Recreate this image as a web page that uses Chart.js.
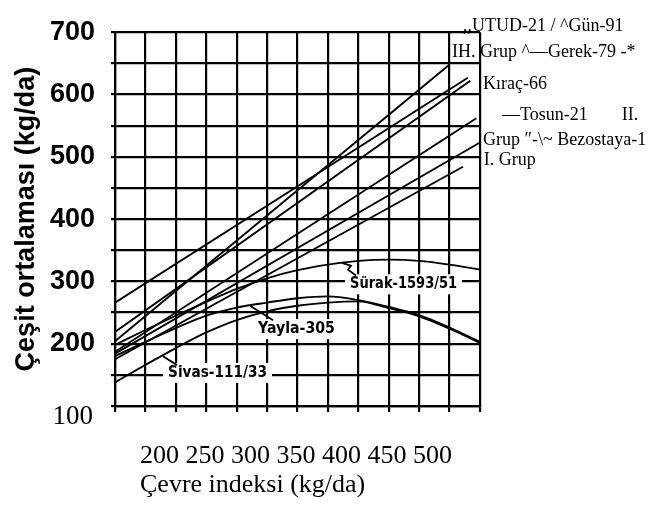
<!DOCTYPE html>
<html>
<head>
<meta charset="utf-8">
<script src="https://cdn.jsdelivr.net/npm/chart.js@4.4.0/dist/chart.umd.min.js"></script>
<style>
    html, body { margin: 0; padding: 0; background: #fff; }
    #wrap { width: 648px; height: 508px; }
</style>
</head>
<body>
<div id="wrap"><canvas id="chart" width="648" height="508"></canvas></div>
<script>
// Çevre indeksi values for the curved varieties
var curveX = [200, 225, 250, 275, 300, 325, 350, 375, 400, 425, 450, 475, 500];
var surakY = [198, 222, 245, 267, 288, 305, 318, 327, 333, 335, 333, 327, 319];
var yaylaY = [180, 203, 225, 245, 258, 266, 273, 276, 270, 259, 246, 226, 203];
var sivasY = [138, 166, 193, 218, 238, 252, 261, 266, 268, 257, 244, 224, 201];

// straight lines, start and end
var gunX = [200, 475], gunY = [204, 648];
var gerekX = [200, 490], gerekY = [266, 627];
var kiracX = [200, 492], kiracY = [219, 622];
var tosunX = [200, 497], tosunY = [187, 562];
var bezostayaX = [200, 500], bezostayaY = [184, 523];
var grupX = [200, 486], grupY = [175, 484];

// tick labels
var yTickLabels = [200, 300, 400, 500, 600, 700];
var yBottomLabel = '100';
var xTickLabels = ['200', '250', '300', '350', '400', '450', '500'];
var xTitle = 'Çevre indeksi (kg/da)';
var yTitle = 'Çeşit ortalaması (kg/da)';

// text on the right side of the plot (anchored in data units)
var sideLabels = [
    { text: ',,UTUD-21 / ^Gün-91', x: 486, y: 709 },
    { text: 'IH. Grup ^—Gerek-79 -*', x: 477, y: 667 },
    { text: 'Kıraç-66', x: 502.5, y: 617 },
    { text: '—Tosun-21', x: 518, y: 567 },
    { text: 'II.', x: 616.5, y: 567 },
    { text: 'Grup ″-\\~ Bezostaya-1', x: 502.5, y: 527 },
    { text: 'I. Grup', x: 503, y: 495 }
];

// labels inside the plot with their pointer lines
var curveLabels = [
    { text: 'Sürak-1593/51', x: 393.2, y: 295.3, width: 107,
      pointer: [[386.6, 329.7], [394, 325], [391.5, 318.8], [398, 309.4]] },
    { text: 'Yayla-305', x: 317.5, y: 223.4, width: 77,
      pointer: [[311, 261], [329.9, 237.5]] },
    { text: 'Sivas-111/33', x: 243.6, y: 153.1, width: 99,
      pointer: [[239.5, 179.7], [251, 165.6]] }
];

function pts(xs, ys) {
    return xs.map(function (x, i) { return { x: x, y: ys[i] }; });
}

function lineSet(label, xs, ys, curved) {
    return {
        label: label,
        data: pts(xs, ys),
        borderColor: '#000',
        borderWidth: 1.9,
        pointRadius: 0,
        fill: false,
        tension: 0,
        cubicInterpolationMode: curved ? 'monotone' : 'default'
    };
}

var textPlugin = {
    id: 'textLayer',
    afterDatasetsDraw: function (chart) {
        var ctx = chart.ctx;
        var xs = chart.scales.x, ys = chart.scales.y, area = chart.chartArea;
        ctx.save();
        ctx.fillStyle = '#000';
        ctx.strokeStyle = '#000';
        ctx.textBaseline = 'middle';

        // labels inside the plot
        curveLabels.forEach(function (l) {
            var px = xs.getPixelForValue(l.x), py = ys.getPixelForValue(l.y);
            ctx.fillStyle = '#fff';
            ctx.fillRect(px - 5, py - 10, l.width + 10, 20);
            ctx.fillStyle = '#000';
            ctx.font = 'bold 16px "DejaVu Sans"';
            var w = ctx.measureText(l.text).width;
            ctx.save();
            ctx.translate(px, py);
            ctx.scale(l.width / w, 1);
            ctx.textAlign = 'left';
            ctx.fillText(l.text, 0, 0);
            ctx.restore();
            ctx.lineWidth = 1.8;
            ctx.beginPath();
            l.pointer.forEach(function (p, i) {
                var x = xs.getPixelForValue(p[0]), y = ys.getPixelForValue(p[1]);
                if (i === 0) ctx.moveTo(x, y); else ctx.lineTo(x, y);
            });
            ctx.stroke();
        });

        // right side names
        ctx.font = '18px "Liberation Serif"';
        ctx.textAlign = 'left';
        sideLabels.forEach(function (l) {
            ctx.fillText(l.text, xs.getPixelForValue(l.x), ys.getPixelForValue(l.y));
        });

        // x axis text
        ctx.font = '26px "Liberation Serif"';
        ctx.fillText(xTickLabels.join(' '), area.left + 25, area.bottom + 50);
        ctx.fillText(xTitle, area.left + 25, area.bottom + 79);

        // bottom y label
        ctx.font = '27px "Liberation Serif"';
        ctx.textAlign = 'right';
        ctx.fillText(yBottomLabel, area.left - 22, ys.getPixelForValue(100) + 11);
        ctx.restore();
    }
};

var chart = new Chart(document.getElementById('chart'), {
    type: 'line',
    data: {
        datasets: [
            lineSet('Sürak-1593/51', curveX, surakY, true),
            lineSet('Yayla-305', curveX, yaylaY, true),
            lineSet('Sivas-111/33', curveX, sivasY, true),
            lineSet('Gün-91', gunX, gunY, false),
            lineSet('Gerek-79', gerekX, gerekY, false),
            lineSet('Kıraç-66', kiracX, kiracY, false),
            lineSet('Tosun-21', tosunX, tosunY, false),
            lineSet('Bezostaya-1', bezostayaX, bezostayaY, false),
            lineSet('I. Grup', grupX, grupY, false)
        ]
    },
    options: {
        responsive: false,
        animation: false,
        layout: { padding: { top: 22, right: 168, bottom: 0, left: 0 } },
        plugins: {
            legend: { display: false },
            tooltip: { enabled: false }
        },
        scales: {
            x: {
                type: 'linear',
                min: 200,
                max: 500,
                ticks: { stepSize: 25, display: false, autoSkip: false },
                grid: { color: '#000', lineWidth: 2.2, tickLength: 6, tickColor: '#000' },
                border: { color: '#000', width: 2.2 },
                afterFit: function (scale) { scale.height = 102; }
            },
            y: {
                min: 100,
                max: 700,
                ticks: {
                    stepSize: 50,
                    autoSkip: false,
                    padding: 16,
                    color: '#000',
                    font: { family: '"Liberation Sans", Arial, sans-serif', size: 27, weight: 'bold' },
                    callback: function (v) { return yTickLabels.indexOf(v) >= 0 ? String(v) : ''; }
                },
                grid: { color: '#000', lineWidth: 2.2, tickLength: 4, tickColor: '#000' },
                border: { color: '#000', width: 2.2 },
                title: {
                    display: true,
                    text: yTitle,
                    color: '#000',
                    padding: { top: 10, bottom: 0 },
                    font: { family: '"Liberation Sans", Arial, sans-serif', size: 27, weight: 'bold' }
                },
                afterFit: function (scale) { scale.width = 115; }
            }
        }
    },
    plugins: [textPlugin]
});
</script>
</body>
</html>
